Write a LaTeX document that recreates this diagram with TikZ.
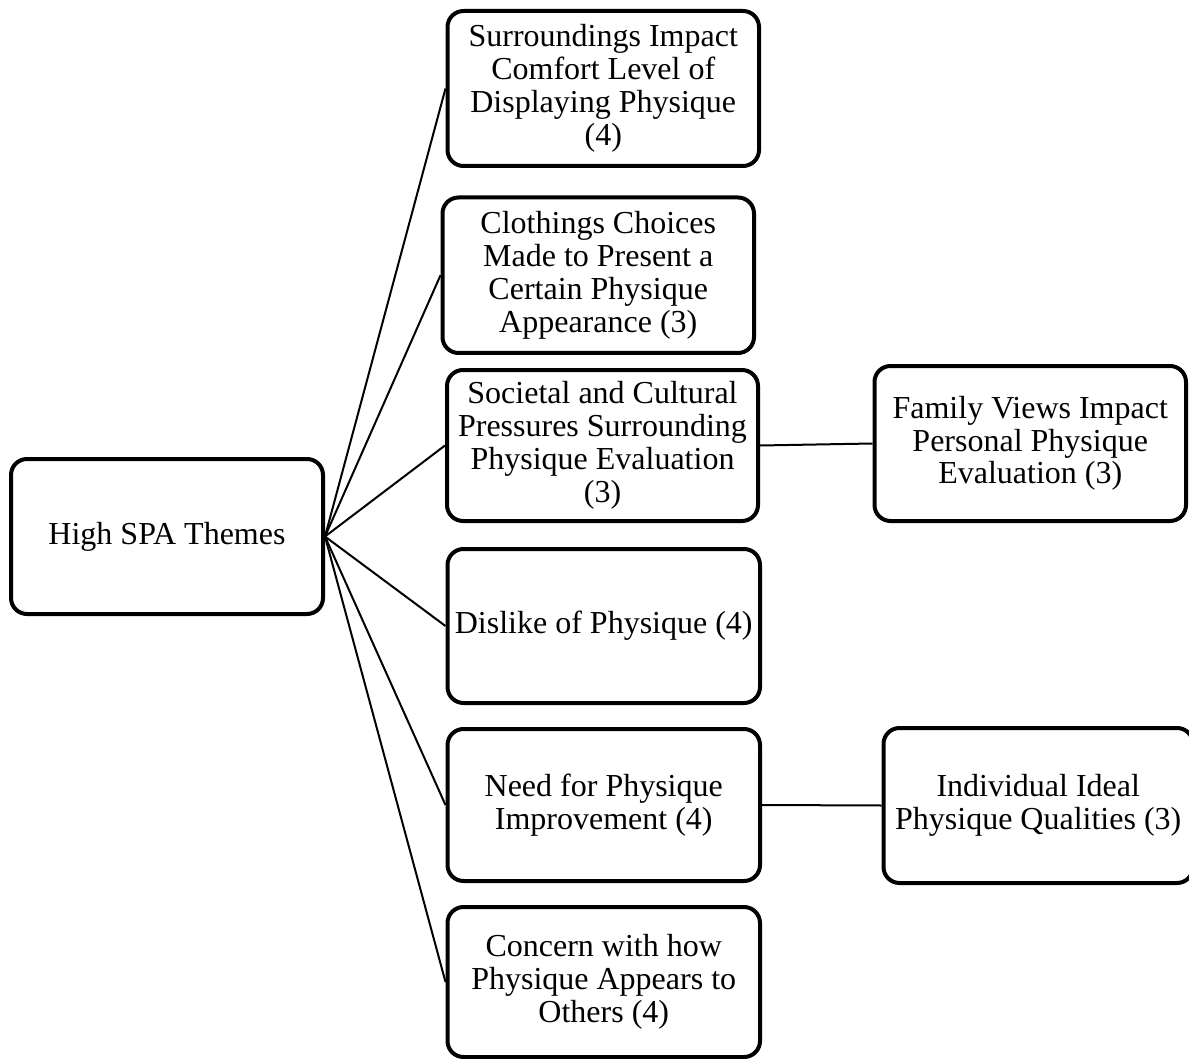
\documentclass[tikz,border=0pt]{standalone}
\usepackage{fontspec}
\setmainfont{Liberation Serif}
\begin{document}
\begin{tikzpicture}[x=0.5pt,y=-0.5pt,
  theme/.style={draw=black, line width=2pt, rounded corners=8pt, fill=white,
    inner sep=0pt, align=center, font=\fontsize{16pt}{16.4pt}\selectfont},
  link/.style={draw=black, line width=1pt}]
\useasboundingbox (0,0) rectangle (1189,1059);
\node[theme, minimum width=156pt, minimum height=77.5pt] (root) at (167,536.5) {High SPA Themes};
\node[theme, minimum width=155.75pt, minimum height=77.5pt] (b1) at (603.25,88.5) {Surroundings Impact\\Comfort Level of\\Displaying Physique\\(4)};
\node[theme, minimum width=155.75pt, minimum height=77.75pt] (b2) at (598.25,275.25) {Clothings Choices\\Made to Present a\\Certain Physique\\Appearance (3)};
\node[theme, minimum width=155.5pt, minimum height=75.5pt] (b3) at (602.5,445.5) {Societal and Cultural\\Pressures Surrounding\\Physique Evaluation\\(3)};
\node[theme, minimum width=156.25pt, minimum height=77pt] (b4) at (603.75,626) {Dislike of Physique (4)};
\node[theme, minimum width=156.25pt, minimum height=76pt] (b5) at (603.75,805) {Need for Physique\\Improvement (4)};
\node[theme, minimum width=156.25pt, minimum height=75pt] (b6) at (603.75,982) {Concern with how\\Physique Appears to\\Others (4)};
\node[theme, minimum width=155.75pt, minimum height=77.5pt] (fam) at (1030.25,443.5) {Family Views Impact\\Personal Physique\\Evaluation (3)};
\node[theme, minimum width=154.75pt, minimum height=77.5pt] (ind) at (1038.25,805.5) {Individual Ideal\\Physique Qualities (3)};
\foreach \c in {b1,b2,b3,b4,b5,b6}{
  \draw[link] (root.east) -- (\c.west);
}
\draw[link] (b3.east) -- (fam.west);
\draw[link] (b5.east) -- (ind.west);
\end{tikzpicture}
\end{document}
